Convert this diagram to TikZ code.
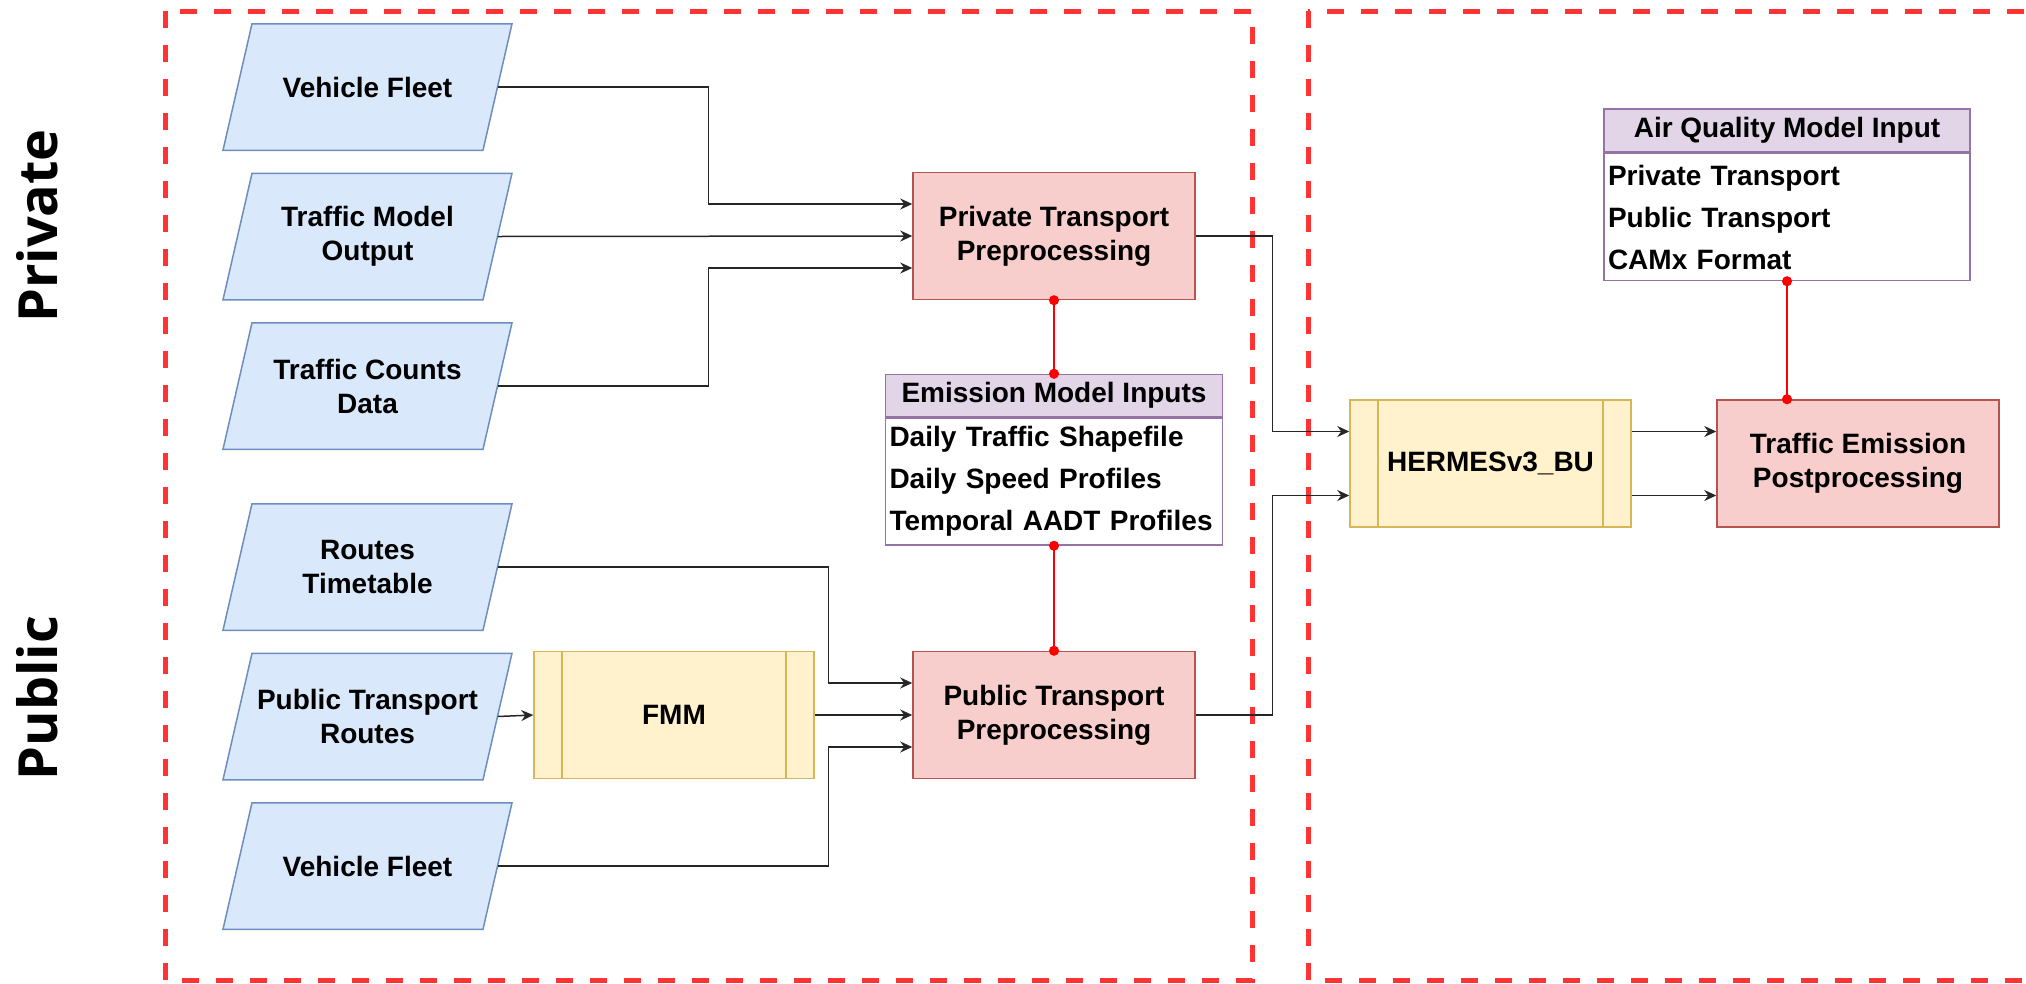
\documentclass[tikz,border=0pt]{standalone}
\usepackage{xcolor}
\usepackage{fontspec}
\setmainfont{Liberation Sans}
\newfontfamily\sidefont{Open Sans}
\usetikzlibrary{arrows.meta, positioning}

\definecolor{iofill}{HTML}{DAE8FC}
\definecolor{ioline}{HTML}{6C8EBF}
\definecolor{prfill}{HTML}{F8CECC}
\definecolor{prline}{HTML}{B85450}
\definecolor{spfill}{HTML}{FFF2CC}
\definecolor{spline}{HTML}{D6B656}
\definecolor{tbfill}{HTML}{E1D5E7}
\definecolor{tbline}{HTML}{9673A6}
\definecolor{zoneline}{HTML}{FF3333}

\begin{document}
\begin{tikzpicture}[
  x=1pt, y=-1pt,
  every node/.style={font=\bfseries\fontsize{28}{34}\selectfont, align=center, line width=1.5pt},
  dataio/.style={rectangle, minimum width=291pt, minimum height=128pt,
    path picture={
      \filldraw[draw=ioline, fill=iofill, line width=1.5pt]
        ([shift={(30pt,-0.75pt)}]path picture bounding box.north west) --
        ([shift={(-1pt,-0.75pt)}]path picture bounding box.north east) --
        ([shift={(-30pt,0.75pt)}]path picture bounding box.south east) --
        ([shift={(1pt,0.75pt)}]path picture bounding box.south west) -- cycle;}},
  procbox/.style={rectangle, draw=prline, fill=prfill, minimum width=282pt, minimum height=127pt},
  subproc/.style={rectangle, draw=spline, fill=spfill, minimum width=281pt, minimum height=127pt,
    path picture={
      \draw[spline, line width=1.5pt] ([xshift=28pt]path picture bounding box.north west) -- ([xshift=28pt]path picture bounding box.south west);
      \draw[spline, line width=1.5pt] ([xshift=-28pt]path picture bounding box.north east) -- ([xshift=-28pt]path picture bounding box.south east);}},
  tabhead/.style={rectangle, draw=tbline, fill=tbfill, minimum height=42pt, inner sep=0pt},
  tabbody/.style={rectangle, draw=tbline, fill=white, minimum height=127pt, align=left, inner xsep=4pt,
    font=\bfseries\fontsize{28}{42}\selectfont},
  flow/.style={draw=black!85, line width=1.5pt, -{Stealth[length=12pt, width=11pt]}},
  redlink/.style={draw=red, line width=1.5pt, {Circle[length=10pt]}-{Circle[length=10pt]}, shorten <=-5pt, shorten >=-5pt},
  zone/.style={draw=zoneline, line width=5pt, dash pattern=on 17pt off 17pt},
  side/.style={font=\sidefont\bfseries\fontsize{54}{60}\selectfont, rotate=90}
]
\useasboundingbox (0,0) rectangle (2026,983);
\clip (0,0) rectangle (2026,983);

\draw[zone] (165,11) rectangle (1252,980);
\draw[zone] (1308,11) rectangle (2040,980);

\node[side] (privlbl) at (37,226) {Private};
\node[side] (publbl) at (37,698) {Public};

% inputs
\node[dataio] (vfa) at (367.5,87) {Vehicle Fleet};
\node[dataio, below=20pt of vfa] (tmo) {Traffic Model\\Output};
\node[dataio, below=20pt of tmo] (tcd) {Traffic Counts\\Data};
\node[dataio] (rtt) at (367.5,567) {Routes\\Timetable};
\node[dataio, below=20pt of rtt] (ptr) {Public Transport\\Routes};
\node[dataio, below=20pt of ptr] (vfb) {Vehicle Fleet};

% processing
\node[procbox] (ptp) at (1054,236) {Private Transport\\Preprocessing};
\node[procbox] (pubtp) at (1054,715) {Public Transport\\Preprocessing};
\node[subproc, minimum width=280pt] (fmm) at (674,715) {FMM};
\node[subproc] (herm) at (1490.5,463.5) {HERMESv3\_BU};
\node[procbox] (tep) at (1858,463.5) {Traffic Emission\\Postprocessing};

% tables
\node[tabhead, minimum width=337pt] (emih) at (1054,395.5) {Emission Model Inputs};
\node[tabbody, text width=329pt, below=0pt of emih] (emib) {Daily Traffic Shapefile\\Daily Speed Profiles\\Temporal AADT Profiles};
\node[tabhead, minimum width=366pt, minimum height=43pt] (aqh) at (1787,130.5) {Air Quality Model Input};
\node[tabbody, text width=358pt, below=0pt of aqh] (aqb) {Private Transport\\Public Transport\\CAMx Format};

% connectors
\draw[flow] ([xshift=-16pt]vfa.east) -| ([xshift=-204pt,yshift=32pt]ptp.west) -- ([yshift=32pt]ptp.west);
\draw[flow] ([xshift=-16pt]tmo.east) -- (ptp.west);
\draw[flow] ([xshift=-16pt]tcd.east) -| ([xshift=-204pt,yshift=-32pt]ptp.west) -- ([yshift=-32pt]ptp.west);
\draw[flow] ([xshift=-16pt]rtt.east) -| ([xshift=-84pt,yshift=32pt]pubtp.west) -- ([yshift=32pt]pubtp.west);
\draw[flow] ([xshift=-16pt]ptr.east) -- (fmm.west);
\draw[flow] (fmm.east) -- (pubtp.west);
\draw[flow] ([xshift=-16pt]vfb.east) -| ([xshift=-84pt,yshift=-32pt]pubtp.west) -- ([yshift=-32pt]pubtp.west);
\draw[flow] (ptp.east) -| ([xshift=-77pt,yshift=32pt]herm.west) -- ([yshift=32pt]herm.west);
\draw[flow] (pubtp.east) -| ([xshift=-77pt,yshift=-32pt]herm.west) -- ([yshift=-32pt]herm.west);
\draw[flow] ([yshift=32pt]herm.east) -- ([yshift=32pt]tep.west);
\draw[flow] ([yshift=-32pt]herm.east) -- ([yshift=-32pt]tep.west);

\draw[redlink] (ptp.south) -- (emih.north);
\draw[redlink] (emib.south) -- (pubtp.north);
\draw[redlink] (aqb.south) -- (aqb.south |- tep.north);
\end{tikzpicture}
\end{document}
